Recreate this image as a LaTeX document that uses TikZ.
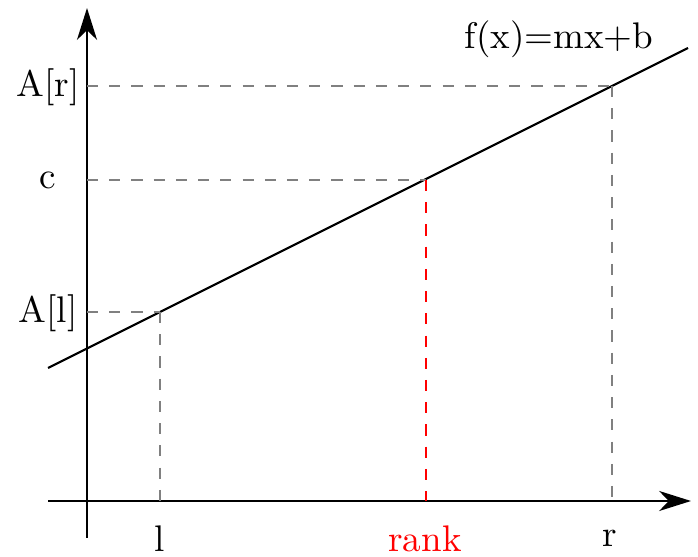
\documentclass[tikz,border=0pt]{standalone}
\usetikzlibrary{arrows.meta}
\begin{document}
\begin{tikzpicture}[x=0.27pt,y=-0.27pt,
  axis/.style={line width=0.6pt,-{Stealth[length=8.6pt,width=5.4pt,inset=2.6pt]}},
  fline/.style={line width=0.6pt},
  guide/.style={line width=0.55pt,dashed,draw=gray},
  rguide/.style={line width=0.55pt,dashed,draw=red},
  lbl/.style={anchor=base,inner sep=0pt}]
\useasboundingbox (0,0) rectangle (698,557);
% axes
\coordinate (xs) at (48,501);
\coordinate (xe) at (691,501);
\coordinate (ys) at (87,538);
\coordinate (ye) at (87,8);
\draw[axis] (xs) -- (xe);
\draw[axis] (ys) -- (ye);
% line
\coordinate (L) at (48,368);
\coordinate (R) at (688,48);
\draw[fline] (L) -- (R);
% points on line
\coordinate (Pl) at (160,312);
\coordinate (Pc) at (426,180);
\coordinate (Pr) at (612,86);
\coordinate (Yl) at (87,312);
\coordinate (Yc) at (87,180);
\coordinate (Yr) at (87,86);
\coordinate (Xl) at (160,501);
\coordinate (Xc) at (426,501);
\coordinate (Xr) at (612,501);
\draw[guide] (Yl) -- (Pl);
\draw[guide] (Yc) -- (Pc);
\draw[guide] (Yr) -- (Pr);
\draw[guide] (Pl) -- (Xl);
\draw[rguide] (Pc) -- (Xc);
\draw[guide] (Pr) -- (Xr);
% labels
\node[lbl] (lAr) at (48,97) {A[r]};
\node[lbl] (lc) at (48,189) {c};
\node[lbl] (lAl) at (48,323) {A[l]};
\node[lbl] (ll) at (160,552) {l};
\node[lbl,text=red] (lrank) at (425,552) {rank};
\node[lbl] (lr) at (610,547) {r};
\node[lbl] (lf) at (559,49) {f(x)=mx+b};
\end{tikzpicture}
\end{document}
